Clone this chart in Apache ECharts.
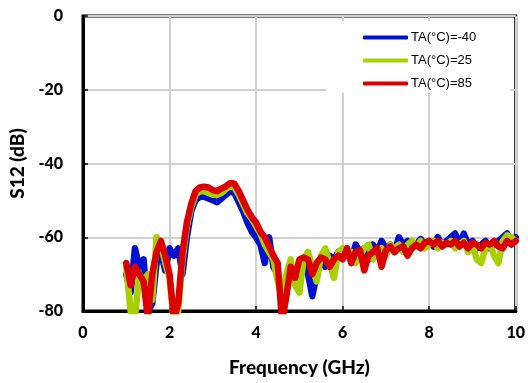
<!DOCTYPE html>
<html>
<head>
<meta charset="utf-8">
<script src="https://cdn.jsdelivr.net/npm/echarts@6/dist/echarts.min.js"></script>
<style>html,body{margin:0;padding:0;background:#fff}#c{width:528px;height:383px}</style>
</head>
<body>
<div id="c"></div>
<script>
var freq = [1.0,1.1,1.2,1.3,1.4,1.5,1.6,1.7,1.8,1.9,2.0,2.1,2.2,2.3,2.4,2.5,2.6,2.7,2.8,2.9,3.0,3.1,3.2,3.3,3.4,3.5,3.6,3.7,3.8,3.9,4.0,4.1,4.2,4.3,4.4,4.5,4.6,4.7,4.8,4.9,5.0,5.1,5.2,5.3,5.4,5.5,5.6,5.7,5.8,5.9,6.0,6.1,6.2,6.3,6.4,6.5,6.6,6.7,6.8,6.9,7.0,7.1,7.2,7.3,7.4,7.5,7.6,7.7,7.8,7.9,8.0,8.1,8.2,8.3,8.4,8.5,8.6,8.7,8.8,8.9,9.0,9.1,9.2,9.3,9.4,9.5,9.6,9.7,9.8,9.9,10.0];

var sNeg40 = [-70,-75,-63,-68,-66,-80,-78,-67,-64,-69,-63,-65,-63,-70,-60,-53,-50,-49,-49,-49.5,-50,-50.5,-49.5,-48.5,-47.5,-48,-50.5,-53,-56,-58.5,-60,-62,-67,-60,-68,-70,-78,-73,-70,-72,-69,-66,-70,-76,-70,-66,-68,-65,-66,-64,-65,-63,-66,-62,-64,-63,-66,-62,-64,-61,-63,-62,-64,-60,-62,-61,-63,-62,-60.5,-62,-61,-62.5,-60,-62,-61,-60,-59,-62,-59,-62,-61,-63,-62,-61,-63,-62,-61,-60,-59,-61,-60];

var s25 = [-68,-80,-82,-70,-72,-70,-77,-60,-62,-67,-71,-83,-80,-66,-57,-52,-48.5,-47.5,-47.5,-48,-48.5,-48.5,-48,-47,-46,-46.5,-48.5,-51,-53.5,-55,-57,-59,-62,-64,-66,-72,-76,-70,-66,-73,-75,-66,-64,-68,-72,-65,-63,-67,-71,-64,-63,-65,-64,-67,-65,-63,-62,-66,-64,-63,-65,-62,-63,-62,-64,-62,-61,-62.5,-61,-63,-62,-61,-63,-61.5,-62,-61,-63,-62,-61,-64,-62,-66,-67,-63,-62,-65,-67,-61,-59.5,-60,-61];

var s85 = [-67,-73,-68,-70,-72,-82,-70,-64,-61,-65,-70,-82,-78,-64,-56,-51,-47.5,-46.5,-46.3,-46.5,-47.2,-47.5,-46.8,-46.2,-45.3,-45.5,-47.5,-50,-52.5,-54.5,-56,-58.5,-60,-62.5,-65,-67,-83,-76,-68,-71,-66,-65.5,-66,-70,-67,-65.5,-66,-68,-66,-65,-66,-63,-67,-64,-63.5,-69,-65,-64,-63,-68,-63.5,-62.5,-64,-63,-62.5,-65,-63,-62,-63,-61.5,-61,-62,-61,-62.5,-61.5,-62,-61,-62.5,-61.5,-63,-61.5,-62,-63,-61.5,-62,-61,-62.5,-63,-61,-62,-61];

var seriesNames = ['TA(°C)=-40','TA(°C)=25','TA(°C)=85'];
var seriesColors = ['#0010d0','#a8d000','#dd0000'];
var xTicks = [0,2,4,6,8,10];
var yTicks = [-80,-60,-40,-20,0];

function pairs(vals){ return freq.map(function(f,i){ return [f, vals[i]]; }); }
var allVals = [sNeg40, s25, s85];

var FONT = 'Lato, "Open Sans", sans-serif';
var chart = echarts.init(document.getElementById('c'), null, {renderer:'canvas'});
chart.setOption({
  animation:false,
  backgroundColor:'#fff',
  grid:{left:83,right:11,top:16,bottom:72,show:true,borderColor:'#000',borderWidth:3,backgroundColor:'#fff'},
  legend:{
    orient:'vertical', left:326, top:21,
    padding:[10,34,3,37],
    backgroundColor:'#fff',
    itemWidth:45, itemHeight:4, itemGap:10,
    icon:'roundRect',
    textStyle:{fontFamily:'"Liberation Sans", sans-serif',fontSize:13,color:'#000',padding:[0,0,0,-2]},
    data:seriesNames
  },
  xAxis:{
    type:'value', min:xTicks[0], max:xTicks[xTicks.length-1], interval:2,
    name:'Frequency (GHz)', nameLocation:'middle', nameGap:47,
    nameTextStyle:{fontFamily:FONT,fontWeight:900,fontSize:19,color:'#000'},
    axisLine:{show:true,onZero:false,lineStyle:{color:'#000',width:3}},
    axisTick:{show:true,inside:true,length:5,lineStyle:{color:'#000',width:1.5}},
    axisLabel:{fontFamily:FONT,fontWeight:900,fontSize:16,color:'#000',margin:14},
    splitLine:{show:true,lineStyle:{color:'#d0d0d0',width:2}}
  },
  yAxis:{
    type:'value', min:yTicks[0], max:yTicks[yTicks.length-1], interval:20,
    name:'S12 (dB)', nameLocation:'middle', nameGap:54, nameRotate:90,
    nameTextStyle:{fontFamily:FONT,fontWeight:900,fontSize:19,color:'#000'},
    axisLine:{show:true,onZero:false,lineStyle:{color:'#000',width:3}},
    axisTick:{show:true,inside:true,length:5,lineStyle:{color:'#000',width:1.5}},
    axisLabel:{fontFamily:FONT,fontWeight:900,fontSize:16,color:'#000',margin:20},
    splitLine:{show:true,lineStyle:{color:'#d0d0d0',width:2}}
  },
  series: seriesNames.map(function(n,i){
    return {
      name:n, type:'line', data:pairs(allVals[i]), showSymbol:false, symbol:'none',
      color:seriesColors[i], clip:true,
      lineStyle:{width:6.5,color:seriesColors[i],cap:'round',join:'round'},
      z:2+i
    };
  })
});
</script>
</body>
</html>
